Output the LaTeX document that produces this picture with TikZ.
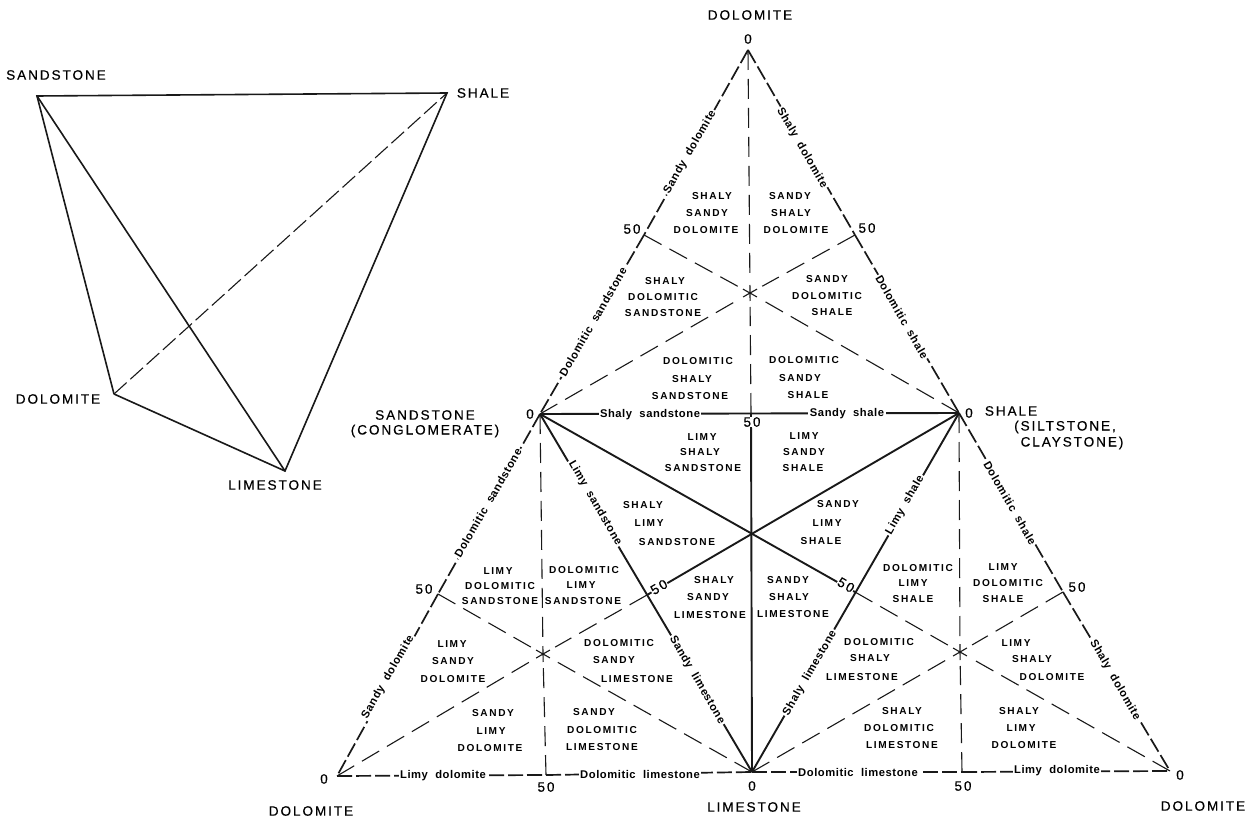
\documentclass[tikz,border=0pt]{standalone}
\usepackage{fontspec}
\setmainfont{Liberation Sans}
\newfontfamily\bigf[LetterSpace=14,FakeBold=0.35]{Liberation Sans}
\newfontfamily\capf[LetterSpace=16]{Liberation Sans Bold}
\newfontfamily\edgef[LetterSpace=5,WordSpace=2]{Liberation Sans Bold}
\usetikzlibrary{calc}
\tikzset{
  solidline/.style={line width=1.9pt,black!90},
  thinline/.style={line width=1.6pt,black!90},
  outerdash/.style={line width=1.7pt,black!90,dash pattern=on 15pt off 4pt},
  innerdash/.style={line width=1.1pt,black!90,dash pattern=on 20pt off 9pt},
  sketchdash/.style={line width=1.1pt,black!90,dash pattern=on 17pt off 5pt},
  capl/.style={inner sep=0pt,font=\capf\fontsize{10.1}{11}\selectfont},
  biglabel/.style={inner sep=0pt,font=\bigf\fontsize{13.6}{15}\selectfont},
  edgel/.style={fill=white,inner sep=1.5pt,font=\edgef\fontsize{11.2}{12}\selectfont},
  numl/.style={inner sep=0.5pt,fill=white,font=\bigf\fontsize{13.6}{15}\selectfont},
}
\begin{document}
\begin{tikzpicture}[x=1pt,y=-1pt]
\useasboundingbox[fill=white] (0,0) rectangle (1245,818);
% sketch
\coordinate (qsand) at (37,96);
\coordinate (qshale) at (447,93);
\coordinate (qdol) at (114,394);
\coordinate (qlime) at (285,471);
\draw[thinline] (qdol) -- (qsand) -- (qshale) -- (qlime) -- (qdol);
\draw[thinline] (qsand) -- (qlime);
\draw[sketchdash] (qdol) -- (qshale);
% vertices
\coordinate (A) at (748,50);
\coordinate (S) at (540,414);
\coordinate (H) at (959,413);
\coordinate (L) at (752,772);
\coordinate (BL) at (337,776);
\coordinate (BR) at (1170,771);
\coordinate (C) at (751,532);
\coordinate (mAS) at (644,235);
\coordinate (mAH) at (855,235);
\coordinate (mSH) at (751,413);
\coordinate (mSB) at (438,594);
\coordinate (mSL) at (647,595);
\coordinate (mHL) at (855,592);
\coordinate (mHB) at (1063,592);
\coordinate (mBL) at (546,775);
\coordinate (mLB) at (962,772);
\coordinate (T1) at (750,293);
\coordinate (T2) at (543,654);
\coordinate (T3) at (960,652);
% inner dashed medians with their stars
\foreach \st/\e in {T1/A,T1/mSH,T1/S,T1/mAH,T1/H,T1/mAS,
                    T2/S,T2/mBL,T2/BL,T2/mSL,T2/L,T2/mSB,
                    T3/H,T3/mLB,T3/L,T3/mHB,T3/BR,T3/mHL}{
  \draw[innerdash] (\e) -- ($(\st)!14pt!(\e)$);
  \draw[line width=1.1pt,black!90] (\st) -- ($(\st)!8pt!(\e)$);
}
% outer edges
\draw[outerdash] (A) -- (mAS);
\draw[outerdash] (mAS) -- (S);
\draw[outerdash] (A) -- (mAH);
\draw[outerdash] (mAH) -- (H);
\draw[outerdash] (S) -- (mSB);
\draw[outerdash] (mSB) -- (BL);
\draw[outerdash] (H) -- (mHB);
\draw[outerdash] (mHB) -- (BR);
\draw[outerdash] (BL) -- (mBL);
\draw[outerdash] (mBL) -- (L);
\draw[outerdash] (L) -- (mLB);
\draw[outerdash] (mLB) -- (BR);
% solid inner triangle
\draw[solidline] (S) -- (H);
\draw[solidline] (S) -- (L);
\draw[solidline] (H) -- (L);
\draw[solidline] (L) -- (mSH);
\draw[solidline] (S) -- (mHL);
\draw[solidline] (H) -- (mSL);
% labels on edges
\foreach \x/\y/\r/\t [count=\i] in {
 690/152/60/Sandy dolomite, 593/322/60/Dolomitic sandstone,
 802/148/-60/Shaly dolomite, 902/317/-60/Dolomitic shale,
 650/415/0/Shaly sandstone, 847/414/0/Sandy shale,
 488/503/60/Dolomitic sandstone, 388/677/60/Sandy dolomite,
 595/503/-60/Limy sandstone, 697/680/-60/Sandy limestone,
 443/776/0/Limy dolomite, 640/774/0/Dolomitic limestone,
 905/505/60/Limy shale, 810/673/60/Shaly limestone,
 1010/503/-60/Dolomitic shale, 1115/680/-60/Shaly dolomite,
 858/772/0/Dolomitic limestone, 1057/771/0/Limy dolomite}{
  \node[edgel,rotate=\r] (e\i) at (\x,\y) {\t};
}
% numbers
\foreach \x/\y/\r/\t [count=\i] in {
 748/39/0/0, 530/414/0/0, 969/413/0/0, 752/786/0/0, 324/779/0/0, 1180/775/0/0,
 632/229/0/50, 867/228/0/50, 752/422/0/50, 424/589/0/50, 659/587/30/50, 846/585/-30/50,
 1077/587/0/50, 546/787/0/50, 963/786/0/50}{
  \node[numl,rotate=\r] (n\i) at (\x,\y) {\t};
}
% region names
\foreach \x/\y/\t [count=\i] in {
 712/196/SHALY,707/213/SANDY,706/230/DOLOMITE,
 790/196/SANDY,791/213/SHALY,796/230/DOLOMITE,
 665/281/SHALY,663/297/DOLOMITIC,663/313/SANDSTONE,
 827/279/SANDY,827/296/DOLOMITIC,832/312/SHALE,
 698/361/DOLOMITIC,692/379/SHALY,690/396/SANDSTONE,
 804/360/DOLOMITIC,800/378/SANDY,808/395/SHALE,
 702/437/LIMY,700/452/SHALY,703/468/SANDSTONE,
 804/436/LIMY,804/452/SANDY,803/468/SHALE,
 643/505/SHALY,649/523/LIMY,677/542/SANDSTONE,
 838/504/SANDY,827/523/LIMY,821/541/SHALE,
 498/571/LIMY,500/586/DOLOMITIC,500/601/SANDSTONE,
 584/570/DOLOMITIC,581/585/LIMY,583/601/SANDSTONE,
 714/580/SHALY,708/597/SANDY,710/615/LIMESTONE,
 788/580/SANDY,789/597/SHALY,793/614/LIMESTONE,
 918/568/DOLOMITIC,913/583/LIMY,913/599/SHALE,
 1003/567/LIMY,1008/583/DOLOMITIC,1003/599/SHALE,
 452/644/LIMY,453/661/SANDY,453/679/DOLOMITE,
 619/643/DOLOMITIC,614/660/SANDY,637/679/LIMESTONE,
 879/642/DOLOMITIC,870/658/SHALY,862/677/LIMESTONE,
 1016/643/LIMY,1032/659/SHALY,1052/677/DOLOMITE,
 493/713/SANDY,491/731/LIMY,490/748/DOLOMITE,
 594/712/SANDY,602/730/DOLOMITIC,602/747/LIMESTONE,
 902/711/SHALY,899/728/DOLOMITIC,902/745/LIMESTONE,
 1019/711/SHALY,1021/728/LIMY,1024/745/DOLOMITE}{
  \node[capl] (c\i) at (\x,\y) {\t};
}
% large names
\foreach \x/\y/\t [count=\i] in {
 750/15/DOLOMITE, 425/415/SANDSTONE, 425/431/(CONGLOMERATE),
 1011/411/SHALE, 1065/427/{(SILTSTONE,}, 1072/443/CLAYSTONE),
 754/807/LIMESTONE, 1203/806/DOLOMITE, 311/811/DOLOMITE,
 56/75/SANDSTONE, 483/93/SHALE, 58/399/DOLOMITE, 275/485/LIMESTONE}{
  \node[biglabel] (b\i) at (\x,\y) {\t};
}
\end{tikzpicture}
\end{document}
